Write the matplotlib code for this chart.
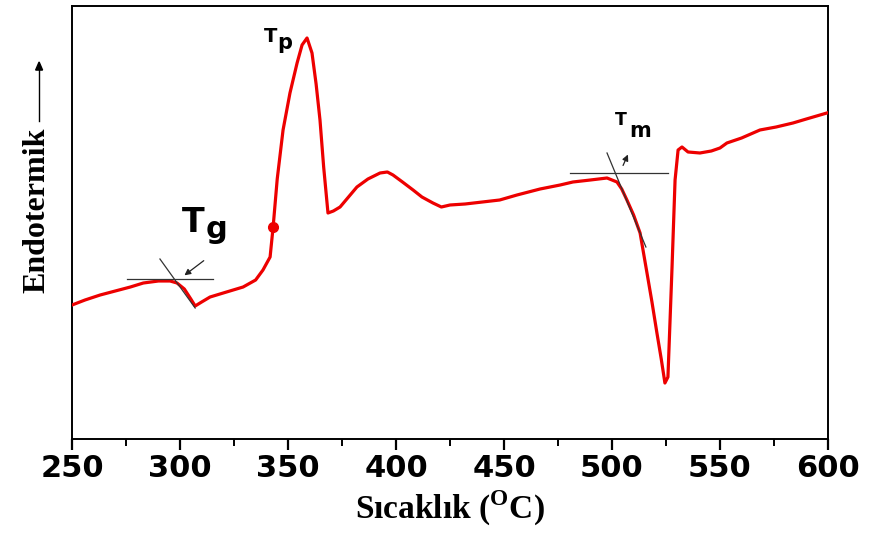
import numpy as np
import matplotlib.pyplot as plt
from matplotlib.ticker import MultipleLocator

plt.rcParams['mathtext.fontset'] = 'custom'
plt.rcParams['mathtext.bf'] = 'Liberation Serif:bold'

# DSC curve (temperature in C, signal in a.u.)
temp = [250, 256, 263, 270, 277, 283, 290, 295.4, 298.6, 302, 305, 307,
        310, 313.9, 320, 329.2, 335, 338.4, 341.7, 343.1, 345, 347.7, 350.9,
        354.2, 356.5, 358.8, 361.1, 363, 364.8, 366.5, 368.5, 371, 374.1,
        378, 381.9, 387, 392.6, 396, 398.6, 403, 407.9, 412, 417.1, 421,
        425, 432, 440, 448, 456, 466.7, 476, 481.9, 490, 497.7, 502.3,
        504.5, 506.9, 510, 513, 516.2, 518.5, 520.8, 522.8, 524.5, 525.9,
        527.8, 529.2, 530.6, 532.4, 535.2, 540.7, 546, 550, 553.2, 560,
        568.5, 576, 583.8, 590, 599.5]
signal = [134, 139, 144, 148, 152, 156, 158, 158, 156, 150, 140, 133,
          137, 142, 146, 152, 159, 169, 182, 212, 260, 309, 346,
          376, 394, 401, 386, 355, 319, 272, 226, 228, 232,
          242, 252, 260, 266, 267, 264, 257, 249, 242, 236, 232,
          234, 235, 237, 239, 244, 250, 254, 257, 259, 261, 257,
          250, 239, 224, 206, 166, 137, 106, 80, 56, 62,
          172, 259, 289, 292, 287, 286, 288, 291, 296, 301,
          309, 312, 316, 320, 326]

# onset construction lines
tg_base_x, tg_base_y = [275.5, 315.3], [160, 160]
tg_slope_x, tg_slope_y = [290.7, 307], [180, 131]
tm_base_x, tm_base_y = [480.6, 525.9], [266, 266]
tm_slope_x, tm_slope_y = [497.7, 515.7], [286, 192]
tp_dot = (343.1, 212)

fig = plt.figure(figsize=(8.69, 5.39), dpi=100)
ax = fig.add_axes([0.0829, 0.1855, 0.8699, 0.8034])

ax.plot(temp, signal, color=(0.93, 0.0, 0.0), lw=2.3, zorder=3)
ax.plot(*tp_dot, 'o', color=(0.93, 0.0, 0.0), markersize=7, zorder=4)

for xs, ys in [(tg_base_x, tg_base_y), (tg_slope_x, tg_slope_y),
               (tm_base_x, tm_base_y), (tm_slope_x, tm_slope_y)]:
    ax.plot(xs, ys, color='#333333', lw=0.9, zorder=5)

arrow_kw = dict(arrowstyle='-|>', color='#222222', lw=0.9, mutation_scale=9)
ax.annotate('', xy=(301, 162), xytext=(312, 180), arrowprops=arrow_kw)
ax.annotate('', xy=(507.9, 287), xytext=(504.6, 271), arrowprops=arrow_kw)

# peak labels
lbl = dict(family='DejaVu Sans', fontweight='bold', color='black')
ax.text(306.3, 207, 'T', fontsize=24, ha='center', va='baseline', **lbl)
ax.text(312.0, 201, 'g', fontsize=22, ha='left', va='baseline', **lbl)
ax.text(341.7, 397, 'T', fontsize=14, ha='center', va='baseline', **lbl)
ax.text(345.2, 390, 'p', fontsize=15, ha='left', va='baseline', **lbl)
ax.text(504.0, 314, 'T', fontsize=12.5, ha='center', va='baseline', **lbl)
ax.text(508.0, 302, 'm', fontsize=15, ha='left', va='baseline', **lbl)

ax.set_xlim(250, 600)
ax.set_ylim(0, 433)
ax.set_yticks([])
ax.xaxis.set_major_locator(MultipleLocator(50))
ax.xaxis.set_minor_locator(MultipleLocator(25))
ax.tick_params(axis='x', which='major', length=8, width=1.6, direction='out', pad=3)
ax.tick_params(axis='x', which='minor', length=5, width=1.4, direction='out')
for lab in ax.get_xticklabels():
    lab.set_fontfamily('DejaVu Sans')
    lab.set_fontweight('bold')
    lab.set_fontsize(22)
for sp in ax.spines.values():
    sp.set_linewidth(1.4)

ax.set_xlabel(r'Sıcaklık ($^{\mathbf{O}}$C)', fontsize=24, fontweight='bold',
              family='Liberation Serif', labelpad=4)

# y label with arrow
fig.text(0.043, 0.61, 'Endotermik', rotation=90, fontsize=23, fontweight='bold',
         family='Liberation Serif', ha='center', va='center')
fig.add_artist(plt.Line2D([0.045, 0.045], [0.776, 0.88], color='black', lw=1.0,
                          transform=fig.transFigure))
fig.patches.append(plt.Polygon([[0.041, 0.87], [0.049, 0.87], [0.045, 0.885]],
                               closed=True, color='black', transform=fig.transFigure,
                               figure=fig))

fig.savefig('out.png', dpi=100)
